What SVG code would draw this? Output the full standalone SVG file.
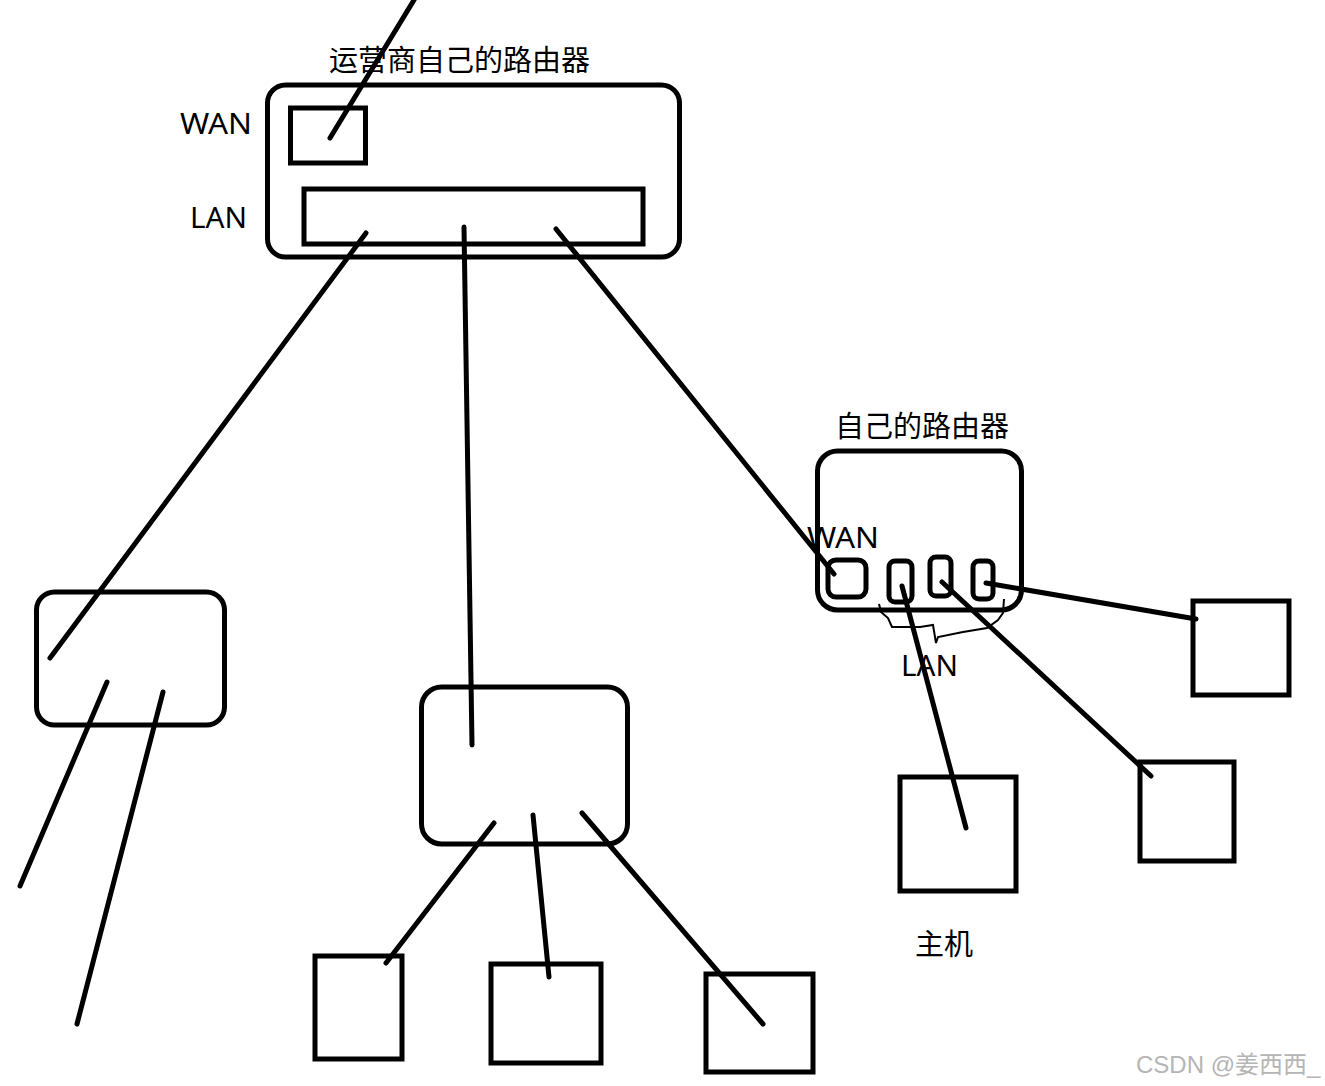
<svg xmlns="http://www.w3.org/2000/svg" width="1325" height="1086" viewBox="0 0 1325 1086">
<style>
.s{fill:none;stroke:#000;stroke-width:5}
.l{fill:none;stroke:#000;stroke-width:5;stroke-linecap:round}
.t{font-family:"Noto Sans CJK SC","Liberation Sans",sans-serif;font-size:29px;fill:#000}
.e{font-family:"Noto Sans","Liberation Sans",sans-serif;font-size:29px;fill:#000;lengthAdjust:spacingAndGlyphs}
</style>
<rect width="1325" height="1086" fill="#fff"/>
<g id="isp-router"><rect class="s" x="267.500" y="85" width="412" height="172" rx="18"/><rect class="s" x="290.500" y="108" width="75" height="55"/><rect class="s" x="304" y="189" width="339" height="55"/><text class="t" x="329" y="71">运营商自己的路由器</text><text class="e" x="180" y="134" textLength="72" lengthAdjust="spacingAndGlyphs">WAN</text><text class="e" x="190" y="228" textLength="57" lengthAdjust="spacingAndGlyphs">LAN</text></g>
<g id="own-router"><rect class="s" x="817.500" y="451" width="204" height="159" rx="20"/><rect class="s" x="828" y="560" width="38" height="37" rx="8"/><rect class="s" x="889" y="561" width="23" height="41" rx="6"/><rect class="s" x="930" y="557" width="21" height="39" rx="6"/><rect class="s" x="973" y="561" width="20" height="38" rx="6"/><text class="t" x="835" y="437">自己的路由器</text><text class="e" x="807" y="548" textLength="72" lengthAdjust="spacingAndGlyphs">WAN</text><text class="e" x="901" y="676" textLength="57" lengthAdjust="spacingAndGlyphs">LAN</text></g>
<g id="router-left"><rect class="s" x="36.500" y="592" width="188" height="133" rx="18"/></g>
<g id="router-mid"><rect class="s" x="421.500" y="687" width="206" height="157" rx="20"/></g>
<g id="host-1"><rect class="s" x="315" y="956" width="87" height="103"/></g>
<g id="host-2"><rect class="s" x="491" y="964" width="110" height="99"/></g>
<g id="host-3"><rect class="s" x="706" y="974" width="107" height="98"/></g>
<g id="host-4"><rect class="s" x="900" y="777" width="116" height="114"/><text class="t" x="915" y="955">主机</text></g>
<g id="host-5"><rect class="s" x="1140" y="762" width="94" height="99"/></g>
<g id="host-6"><rect class="s" x="1193" y="601" width="96" height="94"/></g>
<g id="connectors">
<path class="l" d="M414 0L330 138M366 233L50 658M464 227L472 745M556 229L834 574M107 682L20 886M163 692L77 1024M494 823L386 963M533 815L549 977M582 813L763 1024M902 586L966 828M942 582L1151 776M986 583L1196 619"/>
<path fill="none" stroke="#000" stroke-width="2" d="M879 604L881 612L888 618L892 627L920 627L933 625L936 643L938 637L963 632L987 628L998 620L1003 613L1004 599"/>
</g>
<text x="1136" y="1073" font-family="'Liberation Sans','Noto Sans CJK SC',sans-serif" font-size="24" fill="#b5b5b5">CSDN @姜西西_</text>
</svg>
